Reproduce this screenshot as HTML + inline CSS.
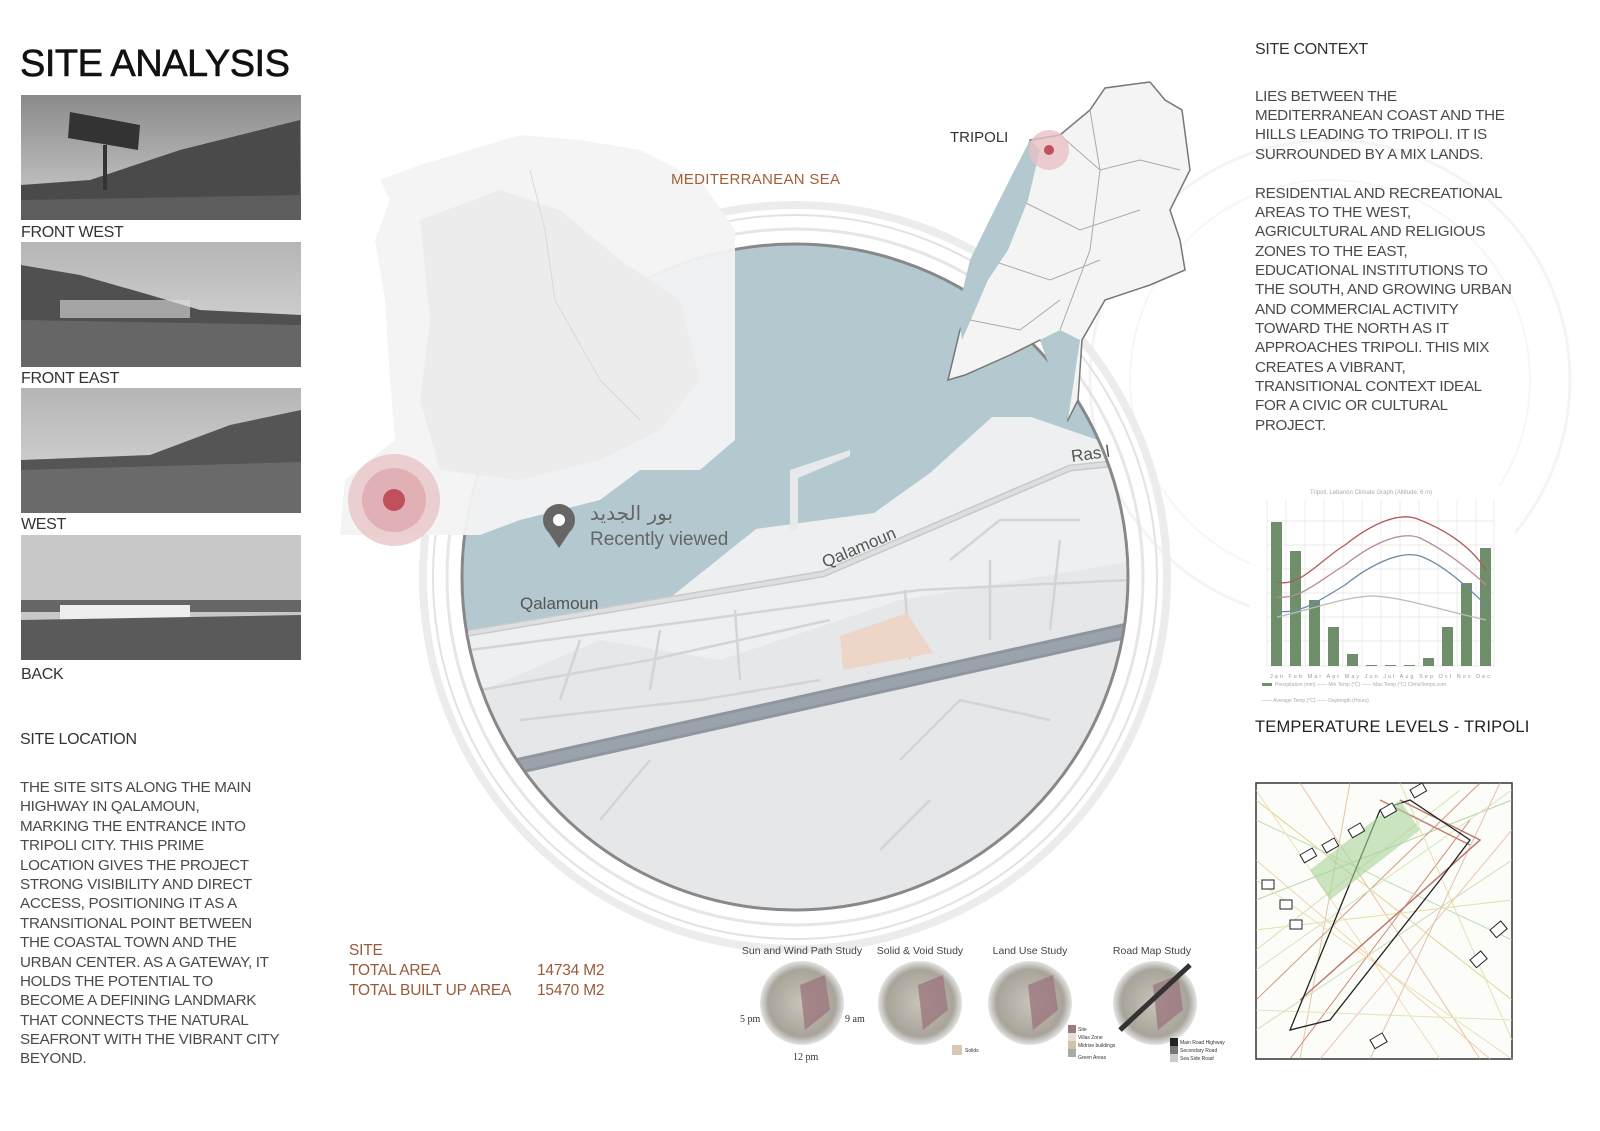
<!DOCTYPE html>
<html><head><meta charset="utf-8"><style>
html,body{margin:0;padding:0;background:#fff;}
svg{display:block;}
text{font-family:"Liberation Sans","Noto Sans CJK SC",sans-serif;}
.t{fill:#4a4a4a;font-size:15.2px;letter-spacing:-0.3px;}
.h{fill:#333;font-size:16px;letter-spacing:-0.3px;}
.b{fill:#9a5a3a;font-size:15.5px;letter-spacing:-0.2px;}
</style></head><body>
<svg width="1600" height="1131" viewBox="0 0 1600 1131" xmlns="http://www.w3.org/2000/svg">
<defs>
<clipPath id="cc"><circle cx="795" cy="577" r="333"/></clipPath>
<linearGradient id="sky" x1="0" y1="0" x2="0" y2="1"><stop offset="0" stop-color="#8a8a8a"/><stop offset="1" stop-color="#d0d0d0"/></linearGradient>
<linearGradient id="sky2" x1="0" y1="0" x2="0" y2="1"><stop offset="0" stop-color="#b5b5b5"/><stop offset="1" stop-color="#dcdcdc"/></linearGradient>
<radialGradient id="st" cx="0.5" cy="0.5" r="0.5"><stop offset="0" stop-color="#c8c4b8"/><stop offset="0.8" stop-color="#a8a49a"/><stop offset="1" stop-color="#e4e4e4"/></radialGradient>
</defs>

<circle cx="1330" cy="380" r="240" fill="none" stroke="#f4f4f4" stroke-width="3"/>
<circle cx="1330" cy="380" r="200" fill="none" stroke="#f6f6f6" stroke-width="2"/>

<text x="20" y="76" style="font-size:38px;fill:#111;letter-spacing:-0.5px;stroke:#111;stroke-width:0.6">SITE ANALYSIS</text>

<g>
<rect x="21" y="95" width="280" height="125" fill="url(#sky)"/>
<path d="M21 185 L90 180 L180 150 L300 120 L301 220 L21 220Z" fill="#4a4a4a"/>
<path d="M21 200 L301 195 L301 220 L21 220Z" fill="#5d5d5d"/>
<polygon points="70,112 140,125 138,150 68,138" fill="#333"/><rect x="103" y="145" width="4" height="45" fill="#333"/>
<text x="21" y="237" class="h">FRONT WEST</text>

<rect x="21" y="242" width="280" height="125" fill="url(#sky2)"/>
<path d="M21 265 L80 275 L150 295 L200 310 L301 315 L301 367 L21 367Z" fill="#505050"/>
<path d="M21 320 L301 325 L301 367 L21 367Z" fill="#666"/>
<rect x="60" y="300" width="130" height="18" fill="#ddd" opacity="0.6"/>
<text x="21" y="383" class="h">FRONT EAST</text>

<rect x="21" y="388" width="280" height="125" fill="url(#sky2)"/>
<path d="M21 460 L150 455 L230 425 L301 410 L301 513 L21 513Z" fill="#555"/>
<path d="M21 470 L301 462 L301 513 L21 513Z" fill="#6a6a6a"/>
<text x="21" y="529" class="h">WEST</text>

<rect x="21" y="535" width="280" height="125" fill="#c8c8c8"/>
<rect x="21" y="600" width="280" height="12" fill="#666"/>
<rect x="60" y="605" width="130" height="18" fill="#eee"/>
<path d="M21 620 L301 615 L301 660 L21 660Z" fill="#5a5a5a"/>
<text x="21" y="679" class="h">BACK</text>
</g>

<text x="20" y="744" class="h">SITE LOCATION</text>
<g>
<text x="20" y="792" class="t">THE SITE SITS ALONG THE MAIN</text>
<text x="20" y="811" class="t">HIGHWAY IN QALAMOUN,</text>
<text x="20" y="831" class="t">MARKING THE ENTRANCE INTO</text>
<text x="20" y="850" class="t">TRIPOLI CITY. THIS PRIME</text>
<text x="20" y="870" class="t">LOCATION GIVES THE PROJECT</text>
<text x="20" y="889" class="t">STRONG VISIBILITY AND DIRECT</text>
<text x="20" y="908" class="t">ACCESS, POSITIONING IT AS A</text>
<text x="20" y="928" class="t">TRANSITIONAL POINT BETWEEN</text>
<text x="20" y="947" class="t">THE COASTAL TOWN AND THE</text>
<text x="20" y="967" class="t">URBAN CENTER. AS A GATEWAY, IT</text>
<text x="20" y="986" class="t">HOLDS THE POTENTIAL TO</text>
<text x="20" y="1005" class="t">BECOME A DEFINING LANDMARK</text>
<text x="20" y="1025" class="t">THAT CONNECTS THE NATURAL</text>
<text x="20" y="1044" class="t">SEAFRONT WITH THE VIBRANT CITY</text>
<text x="20" y="1063" class="t">BEYOND.</text>
</g>

<text x="349" y="955" class="b">SITE</text>
<text x="349" y="975" class="b">TOTAL AREA</text>
<text x="349" y="995" class="b">TOTAL BUILT UP AREA</text>
<text x="537" y="975" class="b">14734 M2</text>
<text x="537" y="995" class="b">15470 M2</text>

<circle cx="795" cy="577" r="372" fill="none" stroke="#ececec" stroke-width="8"/>
<circle cx="795" cy="577" r="362" fill="none" stroke="#e2e2e2" stroke-width="2"/>
<circle cx="795" cy="577" r="348" fill="none" stroke="#e6e6e6" stroke-width="3"/>
<g clip-path="url(#cc)">
<rect x="450" y="230" width="700" height="700" fill="#eeeff0"/>
<polygon points="440,240 1150,240 1150,440 1098,440 1031,417 992,417 930,473 874,513 756,529 671,597 462,633 440,640" fill="#b3c8cf"/>
<polygon points="790,470 850,450 850,456 798,478 798,530 790,530" fill="#e8e9ea"/>
<polygon points="460,700 600,640 720,660 900,600 1140,560 1140,930 460,930" fill="#e6e7e9"/>
<g fill="none" stroke="#d2d4d6" stroke-width="2.5">
<path d="M470 650 L700 620 L920 590 L1130 580"/>
<path d="M480 690 L650 660 L830 620"/>
<path d="M560 700 L580 640 M650 690 L660 630 M740 680 L735 610 M910 660 L905 590 M990 640 L990 560 M1050 630 L1060 540 M950 560 L1000 520 L1080 520"/>
<path d="M520 720 L700 700 L820 680 M600 820 L650 760 M900 760 L960 700 L1050 720 M880 850 L930 800"/>
</g>
<polygon points="840,636 907,613 933,653 843,670" fill="#edd6c8"/>
<path d="M469 633 L823 574 L1070 468 L1130 462" fill="none" stroke="#c7c9cb" stroke-width="7"/>
<path d="M469 633 L823 574 L1070 468 L1130 462" fill="none" stroke="#dcdedf" stroke-width="4"/>
<path d="M500 770 L1130 630" fill="none" stroke="#8e979f" stroke-width="16"/>
<path d="M500 770 L1130 630" fill="none" stroke="#9aa3ab" stroke-width="10"/>
</g>
<circle cx="795" cy="577" r="333" fill="none" stroke="#888" stroke-width="3"/>

<path d="M380 180 L420 165 L470 150 L520 135 L580 140 L640 150 L700 180 L735 230 L735 440 L700 470 L640 470 L600 500 L520 520 L480 535 L340 535 L345 480 L395 440 L390 380 L385 300 L375 240 L390 200Z" fill="#f3f3f3" opacity="0.95"/>
<path d="M420 220 L500 190 L560 210 L620 260 L680 300 L700 380 L660 430 L600 460 L520 480 L440 470 L420 400 L430 320Z" fill="#ececec"/>
<path d="M530 170 L545 230 L555 300 L600 380 L640 420" fill="none" stroke="#d8d8d8" stroke-width="1"/>

<circle cx="394" cy="500" r="46" fill="#e9c4c6" opacity="0.8"/>
<circle cx="394" cy="500" r="32" fill="#dfa9ad" opacity="0.8"/>
<circle cx="394" cy="500" r="11" fill="#c0505c"/>
<circle cx="559" cy="520" r="16" fill="#666"/>
<polygon points="547,530 571,530 559,548" fill="#666"/>
<circle cx="559" cy="520" r="6" fill="#fff"/>
<text x="590" y="520" style="font-size:20px;fill:#666;font-family:'DejaVu Sans',sans-serif">بور الجديد</text>
<text x="590" y="545" style="font-size:19px;fill:#666">Recently viewed</text>
<text x="520" y="609" style="font-size:17px;fill:#555">Qalamoun</text>
<text x="825" y="568" transform="rotate(-23 825 568)" style="font-size:17px;fill:#555">Qalamoun</text>
<text x="1072" y="462" transform="rotate(-8 1072 462)" style="font-size:17px;fill:#555">Ras l</text>

<path d="M1030 140 L1015 200 L995 250 L975 290 L960 330 L948 380 L965 375 L1010 355 L1040 340 L1060 360 L1068 420 L1078 400 L1082 340 L1105 300 L1150 285 L1185 270 L1180 240 L1170 210 L1190 170 L1182 110 L1165 100 L1150 82 L1105 88 L1090 110 L1060 135Z" fill="#f4f4f4" stroke="#777" stroke-width="1.5"/>
<g fill="none" stroke="#aaa" stroke-width="1"><path d="M1060 135 L1100 170 L1140 160 L1180 170 M1020 200 L1080 230 L1140 210 M990 260 L1050 280 L1100 260 M970 320 L1020 330 L1060 300 M1090 110 L1100 170 L1090 250 L1060 330"/></g>
<path d="M1030 140 L1040 150 L1028 200 L1008 250 L988 280 L975 310 L962 340 L958 310 L970 260 L992 215 L1012 175Z" fill="#b3c8cf"/>
<path d="M1040 340 L1068 420 L1080 340 L1060 330Z" fill="#b3c8cf"/>
<circle cx="1049" cy="150" r="20" fill="#e8c0c4" opacity="0.8"/>
<circle cx="1049" cy="150" r="5" fill="#c0505c"/>
<text x="950" y="142" style="font-size:15px;fill:#333">TRIPOLI</text>
<text x="671" y="184" style="font-size:15px;fill:#a0603a;letter-spacing:0.3px">MEDITERRANEAN SEA</text>

<text x="1255" y="54" class="h">SITE CONTEXT</text>
<g>
<text x="1255" y="101" class="t">LIES BETWEEN THE</text>
<text x="1255" y="120" class="t">MEDITERRANEAN COAST AND THE</text>
<text x="1255" y="139" class="t">HILLS LEADING TO TRIPOLI. IT IS</text>
<text x="1255" y="159" class="t">SURROUNDED BY A MIX LANDS.</text>
<text x="1255" y="198" class="t">RESIDENTIAL AND RECREATIONAL</text>
<text x="1255" y="217" class="t">AREAS TO THE WEST,</text>
<text x="1255" y="236" class="t">AGRICULTURAL AND RELIGIOUS</text>
<text x="1255" y="256" class="t">ZONES TO THE EAST,</text>
<text x="1255" y="275" class="t">EDUCATIONAL INSTITUTIONS TO</text>
<text x="1255" y="294" class="t">THE SOUTH, AND GROWING URBAN</text>
<text x="1255" y="314" class="t">AND COMMERCIAL ACTIVITY</text>
<text x="1255" y="333" class="t">TOWARD THE NORTH AS IT</text>
<text x="1255" y="352" class="t">APPROACHES TRIPOLI. THIS MIX</text>
<text x="1255" y="372" class="t">CREATES A VIBRANT,</text>
<text x="1255" y="391" class="t">TRANSITIONAL CONTEXT IDEAL</text>
<text x="1255" y="410" class="t">FOR A CIVIC OR CULTURAL</text>
<text x="1255" y="430" class="t">PROJECT.</text>
</g>

<g>
<rect x="1250" y="486" width="265" height="220" fill="#fff" opacity="0.85"/>
<text x="1310" y="494" style="font-size:6px;fill:#aaa">Tripoli, Lebanon Climate Graph (Altitude: 6 m)</text>
<g stroke="#e4e4e4" stroke-width="0.7">
<line x1="1267" y1="521" x2="1494" y2="521"/><line x1="1267" y1="545" x2="1494" y2="545"/><line x1="1267" y1="569" x2="1494" y2="569"/><line x1="1267" y1="593" x2="1494" y2="593"/><line x1="1267" y1="617" x2="1494" y2="617"/><line x1="1267" y1="641" x2="1494" y2="641"/><line x1="1267" y1="666" x2="1494" y2="666"/>
<line x1="1267" y1="500" x2="1267" y2="666"/><line x1="1286" y1="500" x2="1286" y2="666"/><line x1="1305" y1="500" x2="1305" y2="666"/><line x1="1324" y1="500" x2="1324" y2="666"/><line x1="1343" y1="500" x2="1343" y2="666"/><line x1="1362" y1="500" x2="1362" y2="666"/><line x1="1381" y1="500" x2="1381" y2="666"/><line x1="1400" y1="500" x2="1400" y2="666"/><line x1="1419" y1="500" x2="1419" y2="666"/><line x1="1438" y1="500" x2="1438" y2="666"/><line x1="1457" y1="500" x2="1457" y2="666"/><line x1="1476" y1="500" x2="1476" y2="666"/><line x1="1494" y1="500" x2="1494" y2="666"/>
</g>
<g fill="#6f8f6b">
<rect x="1271" y="522" width="11" height="144"/>
<rect x="1290" y="551" width="11" height="115"/>
<rect x="1309" y="600" width="11" height="66"/>
<rect x="1328" y="627" width="11" height="39"/>
<rect x="1347" y="654" width="11" height="12"/>
<rect x="1366" y="665" width="11" height="1"/>
<rect x="1385" y="665" width="11" height="1"/>
<rect x="1404" y="665" width="11" height="1"/>
<rect x="1423" y="658" width="11" height="8"/>
<rect x="1442" y="627" width="11" height="39"/>
<rect x="1461" y="583" width="11" height="83"/>
<rect x="1480" y="548" width="11" height="118"/>
</g>
<g fill="none" stroke-width="1.3">
<path d="M1277 582 C1300 588 1320 560 1345 545 C1370 525 1400 510 1420 520 C1445 530 1470 545 1486 570" stroke="#b05a5a"/>
<path d="M1277 597 C1300 600 1320 580 1345 565 C1370 545 1400 530 1420 538 C1445 550 1470 570 1486 585" stroke="#b88a9a"/>
<path d="M1277 611 C1300 615 1320 600 1345 585 C1370 565 1400 550 1420 556 C1445 565 1470 590 1486 605" stroke="#6b8aa8"/>
<path d="M1277 617 C1310 610 1340 598 1370 596 C1400 596 1440 610 1486 620" stroke="#bbb"/>
</g>
<text x="1270" y="678" style="font-size:5.5px;fill:#999" textLength="220">Jan  Feb  Mar  Apr  May  Jun  Jul  Aug  Sep  Oct  Nov  Dec</text>
<rect x="1262" y="683" width="10" height="3" fill="#6f8f6b"/>
<text x="1275" y="686" style="font-size:5px;fill:#aaa">Precipitation (mm)   —— Min Temp (°C)   —— Max Temp (°C)   ClimaTemps.com</text>
<text x="1262" y="702" style="font-size:5px;fill:#aaa">—— Average Temp (°C)   —— Daylength (Hours)</text>
</g>
<text x="1255" y="732" style="font-size:16.5px;fill:#222;letter-spacing:0.2px">TEMPERATURE LEVELS - TRIPOLI</text>

<g>
<rect x="1256" y="783" width="256" height="276" fill="#fcfcf8" stroke="#333" stroke-width="1.5"/>
<g fill="none" stroke-width="1" opacity="0.7">
<path d="M1256 800 L1512 1000" stroke="#d6c36a"/><path d="M1256 900 L1512 800" stroke="#9cc48a"/><path d="M1300 783 L1480 1059" stroke="#e0a880"/>
<path d="M1256 950 L1460 790" stroke="#c6d88c"/><path d="M1256 1030 L1512 860" stroke="#b5d39a"/><path d="M1256 860 L1490 1059" stroke="#e4c48e"/>
<path d="M1350 783 L1300 1059" stroke="#d9b27a"/><path d="M1256 1000 L1480 783" stroke="#c07050"/><path d="M1290 1059 L1470 820" stroke="#b85a3a"/>
<path d="M1256 820 L1512 940" stroke="#a8cfa0"/><path d="M1400 783 L1512 1040" stroke="#d4d89a"/><path d="M1256 790 L1440 1059" stroke="#efcf9f"/>
<path d="M1256 1010 L1512 1020" stroke="#cfe0a0"/><path d="M1320 1059 L1512 830" stroke="#e6b094"/><path d="M1256 930 L1512 900" stroke="#dfd08a"/>
<path d="M1256 970 L1512 790" stroke="#c9dca8"/><path d="M1256 880 L1512 1059" stroke="#e8d2a2"/><path d="M1370 1059 L1500 783" stroke="#d8a890"/>
<path d="M1400 800 L1480 840 L1300 1000" stroke="#a04030" stroke-width="1.5"/><path d="M1380 800 L1470 845" stroke="#b04a3a" stroke-width="1.5"/>
</g>
<path d="M1290 1030 L1380 810 L1410 800 L1470 840 L1440 880 L1330 1020 Z" fill="none" stroke="#222" stroke-width="1.3"/>
<path d="M1310 870 L1400 800 L1420 830 L1330 900Z" fill="#a9d39a" opacity="0.6"/>
<g fill="#fff" stroke="#222" stroke-width="1"><rect x="1300" y="855" width="14" height="9" transform="rotate(-30 1300 855)"/><rect x="1322" y="845" width="14" height="9" transform="rotate(-30 1322 845)"/><rect x="1348" y="830" width="14" height="9" transform="rotate(-30 1348 830)"/><rect x="1380" y="810" width="14" height="9" transform="rotate(-30 1380 810)"/><rect x="1410" y="790" width="14" height="9" transform="rotate(-30 1410 790)"/><rect x="1262" y="880" width="12" height="9"/><rect x="1280" y="900" width="12" height="9"/><rect x="1290" y="920" width="12" height="9"/><rect x="1490" y="930" width="14" height="10" transform="rotate(-40 1490 930)"/><rect x="1470" y="960" width="14" height="10" transform="rotate(-40 1470 960)"/><rect x="1370" y="1040" width="14" height="10" transform="rotate(-30 1370 1040)"/></g>
</g>

<g style="font-size:10.5px;fill:#444">
<text x="802" y="954" text-anchor="middle">Sun and Wind Path Study</text>
<text x="920" y="954" text-anchor="middle">Solid &amp; Void Study</text>
<text x="1030" y="954" text-anchor="middle">Land Use Study</text>
<text x="1152" y="954" text-anchor="middle">Road Map Study</text>
</g>
<g>
<circle cx="802" cy="1003" r="42" fill="url(#st)"/>
<circle cx="920" cy="1003" r="42" fill="url(#st)"/>
<circle cx="1030" cy="1003" r="42" fill="url(#st)"/>
<circle cx="1155" cy="1003" r="42" fill="url(#st)"/>
<g fill="#9c7880" opacity="0.8"><polygon points="800,985 825,975 830,1010 805,1030"/><polygon points="918,985 943,975 948,1010 923,1030"/><polygon points="1028,985 1053,975 1058,1010 1033,1030"/><polygon points="1153,985 1178,975 1183,1010 1158,1030"/></g>
<path d="M1120 1030 L1190 965" stroke="#333" stroke-width="5"/>
<text x="740" y="1022" style="font-size:10px;fill:#333;font-family:'Liberation Serif',serif">5 pm</text>
<text x="845" y="1022" style="font-size:10px;fill:#333;font-family:'Liberation Serif',serif">9 am</text>
<text x="793" y="1060" style="font-size:10px;fill:#333;font-family:'Liberation Serif',serif">12 pm</text>
<rect x="952" y="1045" width="10" height="10" fill="#d8cab0"/><text x="965" y="1052" style="font-size:5px;fill:#333">Solids</text>
<rect x="1068" y="1025" width="8" height="8" fill="#9c7880"/><rect x="1068" y="1033" width="8" height="8" fill="#e8e0d8"/><rect x="1068" y="1041" width="8" height="8" fill="#d0c4a8"/><rect x="1068" y="1049" width="8" height="8" fill="#a8aca0"/>
<text x="1078" y="1031" style="font-size:5px;fill:#333">Site</text><text x="1078" y="1039" style="font-size:5px;fill:#333">Villas Zone</text><text x="1078" y="1047" style="font-size:5px;fill:#333">Midrise buildings</text><text x="1078" y="1059" style="font-size:5px;fill:#333">Green Areas</text>
<rect x="1170" y="1038" width="8" height="8" fill="#222"/><rect x="1170" y="1046" width="8" height="8" fill="#777"/><rect x="1170" y="1054" width="8" height="8" fill="#ccc"/>
<text x="1180" y="1044" style="font-size:5px;fill:#333">Main Road Highway</text><text x="1180" y="1052" style="font-size:5px;fill:#333">Secondary Road</text><text x="1180" y="1060" style="font-size:5px;fill:#333">Sea Side Road</text>
</g>
</svg>
</body></html>
